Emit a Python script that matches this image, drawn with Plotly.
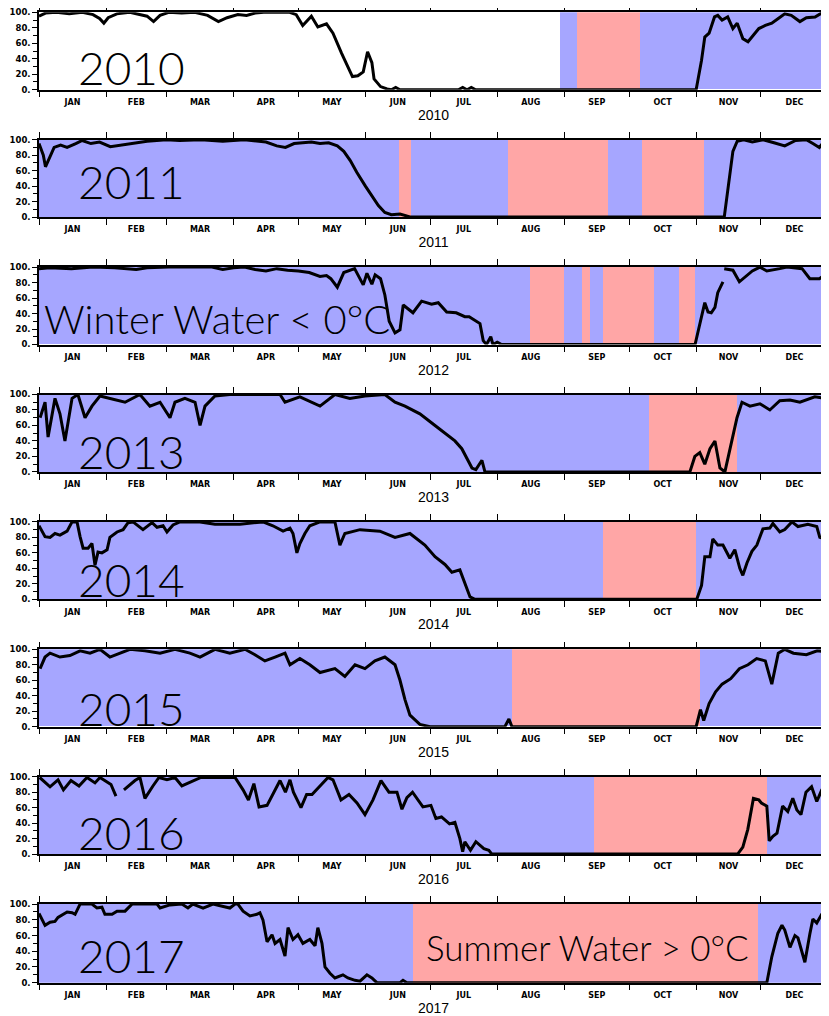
import plotly.graph_objects as go

YEARS = [2010, 2011, 2012, 2013, 2014, 2015, 2016, 2017]
MONTHS = ["JAN", "FEB", "MAR", "APR", "MAY", "JUN", "JUL", "AUG", "SEP", "OCT", "NOV", "DEC"]
MONTH_STARTS = [0, 31, 59, 90, 120, 151, 181, 212, 243, 273, 304, 334, 365]
YTICKS = [0, 20, 40, 60, 80, 100]
YTICKTEXT = ["0.", "20.", "40.", "60.", "80.", "100."]
YMINOR = [10, 30, 50, 70, 90]

# day-of-year, ice concentration (%)
D2010 = [0, 3, 8, 14, 20, 25, 28, 30, 32, 36, 42, 46, 50, 53, 56, 60, 66, 72, 78, 83, 87, 92, 96, 100, 104, 110, 116,
         119, 122, 126, 129, 133, 136, 140, 142, 145, 147.5, 150, 152, 154, 155, 158, 161, 163, 165, 167, 194, 196, 198,
         200, 202, 304, 306.5, 308, 310, 312.5, 314, 316, 318.6, 321, 323, 325.6, 328, 330, 333, 336, 339, 342, 345,
         348, 352, 355, 359, 362.6, 365]
V2010 = [95, 99, 100, 98, 100, 97, 92, 86, 93, 98, 100, 97, 95, 88, 96, 100, 99, 100, 96, 88, 93, 97, 96, 99, 100, 100,
         100, 97, 83, 95, 81, 85, 73, 47, 35, 17, 18, 23, 49, 35, 14, 4, 1, 0, 3, 0, 0, 3, 0, 3, 0, 0, 38, 68, 73, 94,
         96, 90, 94, 79, 86, 66, 62, 69, 79, 83, 86, 92, 98, 96, 88, 93, 94, 100, 97]

D2011 = [0, 2, 3, 5, 7, 10, 13, 17, 20, 24, 28, 33, 38, 44, 50, 59, 65, 75, 85, 95, 105, 110, 114, 118, 122, 126, 130,
         134, 138, 141, 144, 147, 151, 154, 157, 160, 163, 167, 170, 172, 317, 319, 321, 323, 326, 330, 335, 340, 345,
         350, 355, 358, 361, 363, 365]
V2011 = [95, 80, 65, 78, 90, 93, 90, 95, 99, 95, 97, 91, 93, 95, 98, 100, 99, 100, 98, 100, 97, 92, 90, 95, 96, 97, 95,
         96, 92, 85, 73, 58, 40, 27, 15, 6, 3, 4, 2, 0, 0, 40, 85, 98, 100, 97, 100, 96, 92, 99, 100, 95, 90, 97, 98]

D2012 = [0, 5, 15, 25, 35, 45, 50, 60, 70, 80, 85, 90, 95, 100, 105, 110, 115, 120, 125, 130, 133, 135, 138, 141, 146,
         150, 151.7, 154, 155.5, 158, 160, 162, 164.7, 167, 168.5, 170, 173, 177, 181.6, 184.7, 188.6, 193, 197, 199,
         202.5, 204, 205.5, 207, 209, 210, 212, 214, 303.5, 305.7, 308, 309.5, 311, 312.7, 314, 316.4, 316.7, 317, 321,
         324, 327, 330, 333.5, 336.7, 342.7, 346, 353, 356.6, 361, 363.6, 365]
V2012 = [98, 99, 98, 100, 99, 97, 99, 100, 100, 100, 97, 99, 100, 97, 95, 98, 96, 95, 93, 88, 89, 85, 74, 93, 98, 77, 92,
         78, 90, 85, 64, 30, 15, 19, 51, 48, 41, 56, 52, 54, 42, 41, 36, 36, 30, 27, 5, 0, 10, 0, 3, 0, 0, 26, 54, 42,
         41, 48, 67, 81, None, 98, 96, 81, 88, 95, 100, 95, 98, 100, 98, 85, 85, 90, 80]

D2013 = [0.5, 2.8, 4.2, 7.4, 9.7, 12, 15.3, 18, 21.3, 24.5, 28.2, 32.8, 39.8, 46.7, 51.3, 56, 60.6, 62.9, 67.5, 72.2,
         74.5, 76.8, 81.4, 88.3, 111.5, 113.8, 120.7, 130, 136.9, 143.8, 150.8, 160, 164.7, 169.3, 176.2, 183.2, 187.8,
         192.4, 195.6, 198.4, 200.3, 202.1, 204.9, 206.3, 301.1, 303.4, 305.7, 308, 310.4, 312.7, 315, 317.3, 319.6,
         322.9, 325.2, 328.9, 333.5, 338.1, 342.7, 347.4, 352, 358.9, 363.6, 365]
V2013 = [70, 90, 45, 95, 75, 40, 95, 100, 70, 85, 98, 95, 90, 100, 85, 90, 70, 90, 95, 90, 60, 85, 98, 100, 100, 90, 97,
         85, 100, 95, 98, 100, 90, 85, 75, 60, 50, 40, 30, 15, 5, 3, 15, 0, 0, 20, 25, 10, 30, 40, 5, 0, 30, 70, 90, 85,
         88, 80, 92, 93, 90, 97, 95, 93]

D2014 = [0, 2.8, 5.1, 7.4, 9.7, 13, 15.3, 17.6, 19, 20.4, 22.7, 24.5, 25.9, 27.3, 29.1, 31.5, 32.8, 36.1, 38.9, 41.2,
         43.5, 48.1, 52.3, 54.6, 57.4, 59.2, 62, 65.2, 74.5, 81.4, 93, 103.6, 108.2, 112.9, 116.1, 117.5, 119.3, 120.7,
         123, 125.3, 130, 136.9, 139.2, 141.5, 148.5, 157.7, 164.7, 171.6, 178.5, 183.2, 187.8, 191, 194.7, 197, 199.4,
         201.7, 304.3, 306.5, 308, 310.4, 311.7, 314, 316.4, 319.6, 321.9, 324.2, 325.6, 327.5, 329.8, 332.1, 334.9,
         338.1, 339.5, 342.7, 345, 348.3, 351.1, 355.7, 359.8, 361.2, 364.9]
V2014 = [95, 81, 80, 85, 83, 88, 100, 100, 81, 66, 66, 72, 44, 61, 60, 64, 80, 87, 90, 99, 100, 90, 99, 93, 95, 87, 96,
         100, 100, 97, 97, 100, 95, 88, 92, 85, 60, 72, 85, 95, 100, 100, 70, 85, 90, 88, 80, 85, 70, 55, 45, 35, 38, 20,
         3, 0, 0, 18, 55, 55, 78, 70, 70, 53, 64, 40, 31, 47, 62, 70, 91, 92, 98, 87, 90, 100, 94, 97, 94, 80, 77]

D2015 = [0.5, 2.8, 5.1, 9.7, 14.3, 19, 23.6, 28.2, 32.8, 37.5, 42.1, 49, 56, 62.9, 69.8, 74.5, 81.4, 88.3, 95.3, 99.9,
         104.5, 109.2, 113.8, 116.1, 120.7, 125.3, 130, 136.9, 141.5, 146.2, 150.8, 155.4, 160, 164.7, 167, 169.3,
         171.6, 176.2, 180.9, 215.5, 217.4, 218.8, 304, 306, 307.5, 310, 313, 316, 320, 324, 328, 332, 336, 339, 342,
         345, 349, 355, 360, 365]
V2015 = [75, 90, 95, 90, 92, 98, 95, 100, 90, 95, 100, 98, 95, 100, 95, 90, 100, 95, 100, 93, 85, 90, 95, 80, 88, 80,
         70, 75, 65, 80, 75, 85, 90, 80, 60, 35, 15, 3, 0, 0, 10, 0, 0, 22, 8, 30, 45, 55, 62, 75, 80, 88, 85, 55, 95,
         100, 95, 93, 98, 97]

D2016 = [0.3, 5.1, 8.8, 11.3, 14.8, 18.5, 22.2, 25.9, 28.2, 33.3, 35.6, 37.5, 39.3, 44.4, 46.7, 49, 52.7, 55.5, 59.2,
         62.9, 66.1, 71.2, 74.9, 84.6, 90.7, 94.4, 96.9, 99.4, 101.8, 105.5, 109.2, 111.5, 114, 116.1, 117.7, 121.2,
         123.8, 126.3, 130, 133.7, 136, 139.7, 143.4, 147.1, 150.8, 154.5, 158.2, 161.9, 165.6, 167.9, 170.2, 172.8,
         177.6, 181.3, 183.6, 186.2, 189.9, 192.4, 194.7, 196, 197, 199.6, 202.1, 205.8, 208.1, 209.5, 323.2, 325.6,
         327.9, 330.5, 333, 334.2, 336.7, 337.8, 339.5, 341.4, 344, 346.4, 348.7, 350.6, 352.5, 354.8, 357.4, 359.8,
         362.1, 364, 365]
V2016 = [99, 87, 96, 83, 95, 88, 99, 92, 99, 90, 75, None, 83, 95, 99, 72, 88, 99, 96, 99, 88, 95, 99, 99, 99, 83, 70,
         91, 61, 63, 83, 95, 80, 96, 80, 60, 77, 77, 88, 99, 96, 70, 77, 66, 51, 70, 95, 80, 80, 58, 73, 80, 61, 63, 46,
         48, 39, 41, 20, 3, 16, 5, 16, 7, 5, 0, 0, 9, 32, 72, 70, 66, 62, 17, 23, 27, 62, 55, 72, 57, 51, 80, 87, 68, 83,
         88, 80]

D2017 = [0, 2.8, 5.1, 7.4, 8.8, 11.1, 13, 15.3, 16.7, 19, 24.5, 26.8, 29.1, 30.5, 33.8, 36.1, 39.8, 43, 54.6, 56, 60.6,
         66.1, 68.9, 71.2, 75.9, 80.5, 84.6, 88.3, 90.7, 92, 94.4, 97.6, 100.8, 102.2, 103.6, 105.5, 107.8, 109.2,
         111.5, 113.8, 115.2, 117.5, 119.8, 122.1, 125.3, 127.7, 129, 130.9, 132.3, 134.6, 136.9, 140.6, 142.9, 146.2,
         148.5, 151.7, 154, 156.3, 167, 168.4, 170.2, 336.7, 339, 339.5, 341.8, 343.7, 345, 347.4, 349.7, 351.1, 354.3,
         356.6, 358, 359.8, 362.1, 364.5]
V2017 = [88, 73, 77, 78, 83, 87, 90, 89, 87, 100, 100, 95, 96, 87, 87, 91, 91, 100, 100, 95, 99, 100, 95, 100, 95, 100,
         97, 95, 100, 100, 91, 85, 87, 89, 80, 52, 61, 50, 55, 34, 70, 55, 61, 50, 55, 47, 70, 50, 20, 12, 6, 10, 6, 3,
         2, 10, 6, 0, 0, 3, 0, 0, 33, 38, 63, 73, 67, 45, 60, 57, 26, 62, 81, 76, 87, 89]

# water-mass periods: (start day, end day, kind)  W = winter water < 0C, S = summer water > 0C
P2010 = [(241, 249, "W"), (249, 278, "S"), (278, 365, "W")]
P2011 = [(0, 166.5, "W"), (166.5, 172, "S"), (172, 217, "W"), (217, 263, "S"), (263, 279, "W"), (279, 307.6, "S"),
         (307.6, 365, "W")]
P2012 = [(0, 227, "W"), (227, 243, "S"), (243, 251, "W"), (251, 255, "S"), (255, 261, "W"), (261, 284.5, "S"),
         (284.5, 296, "W"), (296, 303.4, "S"), (303.4, 365, "W")]
P2013 = [(0, 282, "W"), (282, 323, "S"), (323, 365, "W")]
P2014 = [(0, 261, "W"), (261, 304, "S"), (304, 365, "W")]
P2015 = [(0, 219, "W"), (219, 306, "S"), (306, 365, "W")]
P2016 = [(0, 256.7, "W"), (256.7, 337, "S"), (337, 365, "W")]
P2017 = [(0, 173, "W"), (173, 332.6, "S"), (332.6, 365, "W")]

DAYS = [D2010, D2011, D2012, D2013, D2014, D2015, D2016, D2017]
VALS = [V2010, V2011, V2012, V2013, V2014, V2015, V2016, V2017]
PERIODS = [P2010, P2011, P2012, P2013, P2014, P2015, P2016, P2017]

COLORS = {"W": "#a6a6ff", "S": "#ffa6a6"}
# the page adds an 8px body margin, so the figure is sized to fit the 829x1016 window
OFF = 8
W, H = 829 - OFF, 1016 - OFF
LABEL_Y = [29, 46, None, 26, 25, 24, 28, 35]

fig = go.Figure()
mids = [(MONTH_STARTS[i] + MONTH_STARTS[i + 1]) / 2 for i in range(12)]
ytick_font = dict(family="DejaVu Sans", size=8.5, color="black", weight="bold")
xtick_font = dict(family="DejaVu Sans", size=8, color="black", weight="bold")

for i, yr in enumerate(YEARS):
    n = "" if i == 0 else str(i + 1)
    xa, ya = "x" + n, "y" + n
    for (a, b, k) in PERIODS[i]:
        fig.add_trace(go.Bar(x=[(a + b) / 2], y=[100], width=[b - a], marker=dict(color=COLORS[k], line=dict(width=0)),
                             xaxis=xa, yaxis=ya, showlegend=False, hoverinfo="skip"))
    fig.add_trace(go.Scatter(x=DAYS[i], y=VALS[i], mode="lines", line=dict(color="black", width=3),
                             connectgaps=False, xaxis=xa, yaxis=ya, showlegend=False))
    top = 12.3 + 127.4 * i - OFF
    h = 78.6 if i == 7 else 77.4
    fig.layout["xaxis" + n] = dict(
        domain=[(39 - OFF) / W, (828 - OFF) / W], anchor=ya, range=[0, 365], showgrid=False, zeroline=False,
        automargin=False, ticklabeloverflow="allow",
        showline=True, linecolor="black", linewidth=1.5, mirror="ticks",
        tickmode="array", tickvals=mids, ticktext=MONTHS, ticks="outside", ticklen=0,
        tickfont=xtick_font, ticklabelstandoff=4,
        minor=dict(tickmode="array", tickvals=MONTH_STARTS, ticks="outside", ticklen=6, tickwidth=1.2,
                   tickcolor="black", showgrid=False),
        title=dict(text=str(yr), font=dict(family="Liberation Sans, Arial", size=14, color="black"), standoff=4),
    )
    fig.layout["yaxis" + n] = dict(
        domain=[1 - (top + h) / H, 1 - top / H], anchor=xa, range=[0, 100], showgrid=False, zeroline=False,
        automargin=False, ticklabeloverflow="allow",
        showline=True, linecolor="black", linewidth=1.5, mirror="ticks",
        tickmode="array", tickvals=YTICKS, ticktext=YTICKTEXT, ticks="outside", ticklen=5, tickwidth=1.2,
        tickcolor="black", tickfont=ytick_font, ticklabelstandoff=0,
        minor=dict(tickmode="array", tickvals=YMINOR, ticks="outside", ticklen=4, tickwidth=1.2,
                   tickcolor="black", showgrid=False),
    )
    if LABEL_Y[i] is not None:
        fig.add_annotation(x=17, y=LABEL_Y[i], xref=xa, yref=ya, text=str(yr), showarrow=False, xanchor="left",
                           yanchor="middle", font=dict(family="Lato, Noto Sans", size=46, color="black", weight=300))

fig.add_annotation(x=1.5, y=33, xref="x3", yref="y3", text="Winter Water < 0°C", showarrow=False, xanchor="left",
                   yanchor="middle", font=dict(family="Lato, Noto Sans", size=40, color="black", weight=300))
fig.add_annotation(x=178, y=45, xref="x8", yref="y8", text="Summer Water > 0°C", showarrow=False, xanchor="left",
                   yanchor="middle", font=dict(family="Lato, Noto Sans", size=35, color="black", weight=300))

fig.update_layout(width=W, height=H, margin=dict(l=0, r=0, t=0, b=0, autoexpand=False), paper_bgcolor="white",
                  plot_bgcolor="white", barmode="overlay", bargap=0, showlegend=False)

fig.write_html("out.html")
